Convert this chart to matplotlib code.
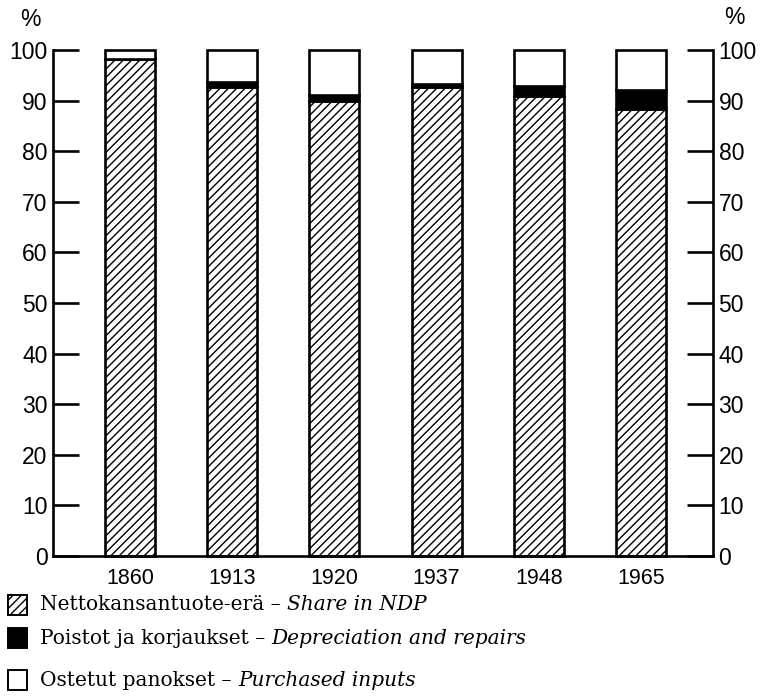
import matplotlib
matplotlib.use("Agg")
import matplotlib.pyplot as plt
from matplotlib.patches import Rectangle
import numpy as np

years = ["1860", "1913", "1920", "1937", "1948", "1965"]
ndp = [98.3, 92.7, 89.9, 92.7, 91.0, 88.3]
depreciation = [0.0, 0.9, 1.3, 0.5, 1.8, 3.7]
purchased = [round(100 - a - b, 1) for a, b in zip(ndp, depreciation)]
yticks = [0, 10, 20, 30, 40, 50, 60, 70, 80, 90, 100]

legend_fi = ["Nettokansantuote-erä", "Poistot ja korjaukset", "Ostetut panokset"]
legend_en = ["Share in NDP", "Depreciation and repairs", "Purchased inputs"]

plt.rcParams['hatch.linewidth'] = 1.0
plt.rcParams['font.family'] = ['Liberation Sans', 'DejaVu Sans']

W, H = 772, 698
fig = plt.figure(figsize=(W / 100, H / 100), dpi=100)
ax = fig.add_axes([53 / W, 1 - 556 / H, (713 - 53) / W, (556 - 50) / H])

x = np.arange(len(years))
bw = 0.49
lw = 1.9
ax.bar(x, ndp, bw, color='white', edgecolor='black', hatch='////', linewidth=lw, clip_on=False)
ax.bar(x, depreciation, bw, bottom=ndp, color='black', edgecolor='black', linewidth=lw, clip_on=False)
bot3 = [a + b for a, b in zip(ndp, depreciation)]
ax.bar(x, purchased, bw, bottom=bot3, color='white', edgecolor='black', linewidth=lw, clip_on=False)

ax.set_xlim(-0.755, 5.706)
ax.set_ylim(0, 100)
ax.set_xticks(x)
ax.set_xticklabels(years, fontsize=15.5)
ax.tick_params(axis='x', length=0, pad=9)
ax.set_yticks(yticks)
ax.set_yticklabels([str(t) for t in yticks], fontsize=16.5)
ax.tick_params(axis='y', direction='in', length=19, width=lw, left=True, right=True,
               labelleft=True, labelright=True, pad=4)
for s in ['left', 'right', 'bottom']:
    ax.spines[s].set_linewidth(lw)
ax.spines['top'].set_visible(False)

fig.text(30 / W, 1 - 19 / H, "%", fontsize=16.5, ha='center', va='center')
fig.text(734 / W, 1 - 17 / H, "%", fontsize=16.5, ha='center', va='center')

# legend
rows_y = [605, 638, 680]
styles = [dict(facecolor='white', hatch='////'), dict(facecolor='black'), dict(facecolor='white')]
fig.canvas.draw()
renderer = fig.canvas.get_renderer()
for yc, st, fi, en in zip(rows_y, styles, legend_fi, legend_en):
    rect = Rectangle((8 / W, 1 - (yc + 10) / H), 19 / W, 20 / H, transform=fig.transFigure,
                     edgecolor='black', linewidth=1.4, **st)
    fig.patches.append(rect)
    t1 = fig.text(40 / W, 1 - yc / H, fi + " – ", fontsize=14.5, family=['DejaVu Serif'],
                  ha='left', va='center')
    bb = t1.get_window_extent(renderer)
    fig.text(bb.x1 / W, 1 - yc / H, en, fontsize=14.5, family=['DejaVu Serif'],
             style='italic', ha='left', va='center')

fig.savefig("out.png", dpi=100)
